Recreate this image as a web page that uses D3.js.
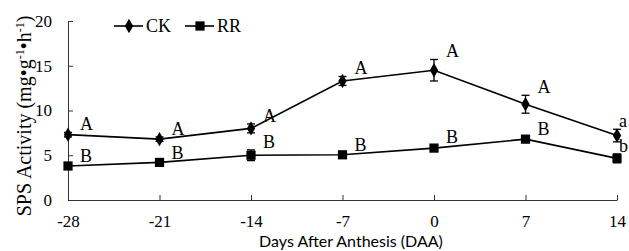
<!DOCTYPE html>
<html>
<head>
<meta charset="utf-8">
<script src="https://cdn.jsdelivr.net/npm/d3@7"></script>
<style>
  body { margin:0; background:#fff; }
  svg text { font-family:"Liberation Serif","Times New Roman",serif; fill:#000; }
</style>
</head>
<body>
<svg id="chart" width="629" height="251"></svg>
<script>
// data
const days = [-28, -21, -14, -7, 0, 7, 14];
const ckValues = [7.3, 6.8, 8.0, 13.3, 14.5, 10.7, 7.2];
const ckErrors = [0.25, 0.25, 0.5, 0.5, 1.2, 1.0, 0.7];
const ckLetters = ["A", "A", "A", "A", "A", "A", "a"];
const rrValues = [3.8, 4.2, 5.0, 5.05, 5.8, 6.8, 4.65];
const rrErrors = [0.2, 0.2, 0.6, 0.2, 0.3, 0.2, 0.5];
const rrLetters = ["B", "B", "B", "B", "B", "B", "b"];
const yTicks = [0, 5, 10, 15, 20];

const svg = d3.select("#chart");
const margin = {top:21, right:12, bottom:51, left:68};
const W = 629, H = 251;

const x = d3.scaleLinear().domain([-28, 14]).range([margin.left, W - margin.right]);
const y = d3.scaleLinear().domain([0, 20]).range([H - margin.bottom, margin.top]);

// axes, ticks point inward
svg.append("g")
  .attr("transform", `translate(${margin.left},0)`)
  .call(d3.axisLeft(y).tickValues(yTicks).tickSizeInner(-5).tickSizeOuter(0).tickPadding(16))
  .call(g => g.selectAll("text").style("font-size","17px"));

svg.append("g")
  .attr("transform", `translate(0,${y(0)})`)
  .call(d3.axisBottom(x).tickValues(days).tickFormat(d => String(d)).tickSizeInner(-5).tickSizeOuter(0).tickPadding(15))
  .call(g => g.selectAll("text").style("font-size","17px"));

svg.selectAll(".domain, .tick line").attr("stroke","#333").attr("stroke-width",1);

// axis titles
svg.append("text")
  .attr("x", 351).attr("y", 247)
  .attr("text-anchor","middle")
  .style("font-family","Lato, 'Open Sans', sans-serif")
  .style("font-size","16px")
  .text("Days After Anthesis (DAA)");

svg.append("text")
  .attr("transform", "translate(31,116) rotate(-90)")
  .attr("text-anchor","middle")
  .style("font-size","20px")
  .html('SPS Activity  (mg•g<tspan dy="-7" font-size="12">-1</tspan><tspan dy="7">•h</tspan><tspan dy="-7" font-size="12">-1</tspan><tspan dy="7">)</tspan>');

const series = [
  {name:"CK", values:ckValues, errors:ckErrors, letters:ckLetters, symbol:d3.symbolDiamond, size:60},
  {name:"RR", values:rrValues, errors:rrErrors, letters:rrLetters, symbol:d3.symbolSquare, size:85}
];

const line = d3.line().x(d => x(d.day)).y(d => y(d.v));

series.forEach(s => {
  const pts = days.map((day, i) => ({day, v:s.values[i], e:s.errors[i], lab:s.letters[i]}));
  const g = svg.append("g");

  g.append("path")
    .datum(pts)
    .attr("fill","none")
    .attr("stroke","#000")
    .attr("stroke-width",1.6)
    .attr("d", line);

  // error bars
  const eb = g.selectAll("g.err").data(pts).join("g").attr("class","err");
  eb.append("line")
    .attr("x1", d => x(d.day)).attr("x2", d => x(d.day))
    .attr("y1", d => y(d.v - d.e)).attr("y2", d => y(d.v + d.e))
    .attr("stroke","#000").attr("stroke-width",1.3);
  eb.append("line")
    .attr("x1", d => x(d.day) - 4).attr("x2", d => x(d.day) + 4)
    .attr("y1", d => y(d.v + d.e)).attr("y2", d => y(d.v + d.e))
    .attr("stroke","#000").attr("stroke-width",1.3);
  eb.append("line")
    .attr("x1", d => x(d.day) - 4).attr("x2", d => x(d.day) + 4)
    .attr("y1", d => y(d.v - d.e)).attr("y2", d => y(d.v - d.e))
    .attr("stroke","#000").attr("stroke-width",1.3);

  g.selectAll("path.pt").data(pts).join("path")
    .attr("class","pt")
    .attr("transform", d => `translate(${x(d.day)},${y(d.v)})`)
    .attr("d", d3.symbol(s.symbol, s.size))
    .attr("fill","#000");

  // significance letters, kept inside the picture at the right edge
  g.selectAll("text.lab").data(pts).join("text")
    .attr("class","lab")
    .attr("x", d => Math.min(x(d.day) + 12, W - 10))
    .attr("y", d => y(d.v + d.e) - 2)
    .style("font-size","18px")
    .text(d => d.lab);
});

// legend
const legend = svg.append("g");
series.forEach((s, i) => {
  const lx = 114 + i * 71, ly = 26;
  legend.append("line")
    .attr("x1", lx).attr("x2", lx + 29)
    .attr("y1", ly).attr("y2", ly)
    .attr("stroke","#000").attr("stroke-width",1.6);
  legend.append("path")
    .attr("transform", `translate(${lx + 15},${ly})`)
    .attr("d", d3.symbol(s.symbol, s.size))
    .attr("fill","#000");
  legend.append("text")
    .attr("x", lx + 32).attr("y", ly + 6)
    .style("font-size","18px")
    .text(s.name);
});
</script>
</body>
</html>
